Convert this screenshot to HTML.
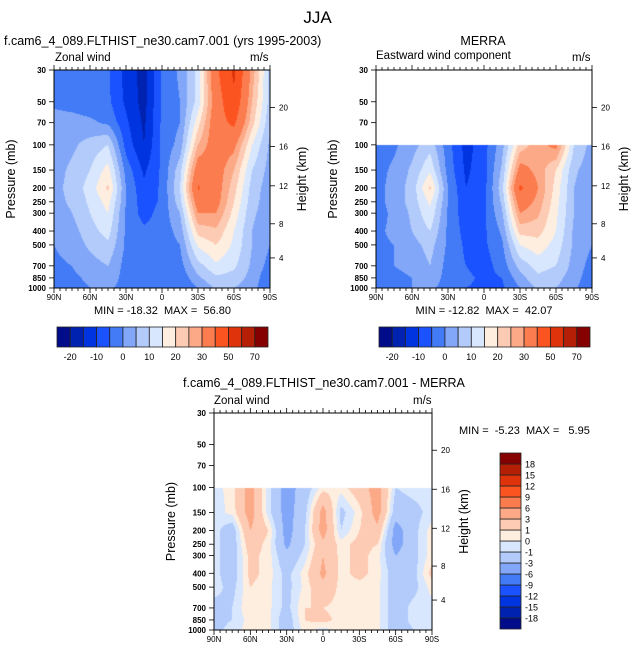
<!DOCTYPE html>
<html><head><meta charset="utf-8">
<style>
html,body{margin:0;padding:0;background:#fff;}
#root{position:relative;width:635px;height:654px;overflow:hidden;font-family:"Liberation Sans",Arial,sans-serif;color:#000;}
.t{position:absolute;white-space:nowrap;line-height:1;}
canvas{position:absolute;}
svg{position:absolute;left:0;top:0;}
</style></head>
<body>
<div id="root">
<div class="t" style="left:0;width:635px;text-align:center;top:9px;font-size:17px;">JJA</div>

<div class="t" style="left:4px;top:35px;font-size:12.5px;">f.cam6_4_089.FLTHIST_ne30.cam7.001 (yrs 1995-2003)</div>
<div class="t" style="left:55px;top:53px;font-size:11.5px;">Zonal wind</div>
<div class="t" style="left:250px;top:53px;font-size:11.5px;">m/s</div>
<div class="t" style="left:0;width:325px;text-align:center;top:306px;font-size:11px;">MIN = -18.32&nbsp; MAX =&nbsp; 56.80</div>

<div class="t" style="left:333px;width:300px;text-align:center;top:35px;font-size:12.5px;">MERRA</div>
<div class="t" style="left:376px;top:51px;font-size:11.5px;">Eastward wind component</div>
<div class="t" style="left:572px;top:53px;font-size:11.5px;">m/s</div>
<div class="t" style="left:330px;width:308px;text-align:center;top:306px;font-size:11px;">MIN = -12.82&nbsp; MAX =&nbsp; 42.07</div>

<div class="t" style="left:183px;top:377px;font-size:12.5px;">f.cam6_4_089.FLTHIST_ne30.cam7.001 - MERRA</div>
<div class="t" style="left:214px;top:396px;font-size:11.5px;">Zonal wind</div>
<div class="t" style="left:413px;top:396px;font-size:11.5px;">m/s</div>
<div class="t" style="left:459px;top:426px;font-size:11px;">MIN =&nbsp; -5.23&nbsp; MAX =&nbsp;&nbsp; 5.95</div>

<canvas id="c1" width="216" height="218" style="left:54px;top:70px;"></canvas>
<canvas id="c2" width="216" height="218" style="left:376px;top:70px;"></canvas>
<canvas id="c3" width="218" height="217" style="left:214px;top:413px;"></canvas>
<svg id="ov" width="635" height="654"></svg>
</div>
<script>
// ---- data ----
const lats = [90,75,60,45,30,15,0,-15,-30,-45,-60,-75,-90];
const pressures = [30,50,70,100,150,200,250,300,400,500,700,850,1000];
const modelU = [
[-2,-2,-3,-4,-12,-17,-4,1,12,38,52,28,8],
[-1,-2,-3,-4,-11,-17,-4,0,12,35,48,25,8],
[2,2,1,-1,-9,-16,-4,0,18,36,42,22,6],
[3,4,7,10,-7,-15,-4,2,25,35,32,15,4],
[3,6,10,17,-2,-11,-4,8,35,34,25,10,3],
[3,7,12,21,0,-9,-4,10,41,34,22,8,2],
[3,6,11,17,0,-8,-4,8,35,33,20,7,2],
[2,5,10,15,-1,-7,-3,5,30,30,18,6,2],
[1,3,8,12,-1,-4,-3,2,22,24,15,5,1],
[0,2,6,9,-1,-3,-3,0,16,20,14,5,0],
[-1,0,3,5,-2,-3,-4,-2,8,14,11,4,-2],
[-1,-1,1,3,-2,-2,-5,-4,4,9,8,3,-4],
[-2,-2,0,1,-2,-2,-4,-5,0,6,5,2,-5]];
const merraU = [
[null,null,null,null,null,null,null,null,null,null,null,null,null],
[null,null,null,null,null,null,null,null,null,null,null,null,null],
[null,null,null,null,null,null,null,null,null,null,null,null,null],
[-2,-1,3,8,-3,-12,-7,3,22,28,32,10,3],
[-2,1,6,14,-2,-11,-7,6,33,28,20,6,2],
[-2,2,7,21,0,-10,-7,8,42,30,18,5,1],
[-2,2,7,16,0,-9,-6,6,35,28,17,5,1],
[-2,1,6,14,-1,-8,-6,4,30,26,16,5,0],
[-1,1,5,10,-1,-7,-6,1,22,22,15,4,0],
[-1,0,3,7,-1,-6,-6,-1,15,18,13,4,0],
[-1,0,1,5,-2,-5,-7,-3,7,12,10,3,-2],
[-1,-1,0,3,-2,-4,-6,-5,3,9,7,2,-3],
[-1,-1,0,1,-2,-5,-6,-6,0,6,5,1,-4]];
const diffU = [
[null,null,null,null,null,null,null,null,null,null,null,null,null],
[null,null,null,null,null,null,null,null,null,null,null,null,null],
[null,null,null,null,null,null,null,null,null,null,null,null,null],
[-0.5,0.5,4,-0.5,-4,-2,0.5,0.5,2,4,-1,-0.5,-0.5],
[-0.5,0.3,4,-0.5,-4,-1.5,4,-1.5,0.5,4,-2,-1.5,-0.5],
[-0.5,-2,3,1,-4,-1,4,-1,1,2.5,-4,-1.5,0.5],
[-0.5,-2,2,0.5,-3.5,-1,2.5,0.5,1.5,1,-4,-1.5,0.5],
[-0.5,-2,1.5,0.5,-2.5,-0.5,3,0.5,1.5,0.5,-3,-1.5,0.5],
[-0.5,-2,1.5,0.5,-1.5,0.5,3.5,0.5,1.5,0.5,-2,-1.5,1.5],
[-0.5,-1.5,1,0.3,-1.5,0.3,2.5,0.5,0.5,0.3,-2,-1.5,0.5],
[-1.5,-1,1,0.3,-1.5,1,1,0.5,0.5,0.3,-2,-0.5,-0.5],
[-1.5,-1,0.5,0.3,-2,1,1.5,0.5,0.5,0.3,-2,-0.5,-1],
[-1.5,-0.5,0.5,0.3,-2,0.5,-0.5,0.5,0.5,0.3,-2,-1,-1]];
const windLevels = [-20,-15,-10,-5,0,5,10,15,20,25,30,40,50,60,70];
const windLabels = ["-20","-10","0","10","20","30","50","70"];
const diffLevels = [-18,-15,-12,-9,-6,-3,-1,0,1,3,6,9,12,15,18];
const pTicks = [30,50,70,100,150,200,250,300,400,500,700,850,1000];
const hTicks = [4,8,12,16,20];
const latTicks = [90,60,30,0,-30,-60,-90];
const latTickLabels = ["90N","60N","30N","0","30S","60S","90S"];
const palette = ["#000c8a","#0022b0","#0034e0","#1a52ff","#437bf6","#82a7f8","#b2cbfb","#d8e7fd","#fdeee0","#fdcbb3","#fca987","#fb7c4e","#fc5421","#df330b","#b41f06","#850000"];

// ---- helpers ----
const NS="http://www.w3.org/2000/svg";
const ov=document.getElementById('ov');
function mk(tag,attrs,txt){const e=document.createElementNS(NS,tag);for(const k in attrs)e.setAttribute(k,attrs[k]);if(txt!==undefined)e.textContent=txt;ov.appendChild(e);return e;}
function hexRGB(h){return [parseInt(h.substr(1,2),16),parseInt(h.substr(3,2),16),parseInt(h.substr(5,2),16)];}
function colorIdx(v,levels){let i=0;while(i<levels.length&&v>=levels[i])i++;return i;}
function heightToP(km){const z=km*1000;if(z<=11000)return 1013.25*Math.pow(1-2.25577e-5*z,5.25588);return 226.32*Math.exp(-(z-11000)/6341.6);}
const LR=Math.log(1000/30);

function drawField(id,P,field,levels){
  const cv=document.getElementById(id),ctx=cv.getContext('2d');
  const w=cv.width,h=cv.height,img=ctx.createImageData(w,h);
  const rows=pressures.map(p=>Math.log(p/30)/LR*h);
  const cols=palette.map(hexRGB);
  for(let y=0;y<h;y++){
    const yy=y+0.5;let r=0;while(r<rows.length-2&&yy>rows[r+1])r++;
    let fy=(yy-rows[r])/(rows[r+1]-rows[r]);fy=Math.max(0,Math.min(1,fy));
    for(let x=0;x<w;x++){
      const fc=(x+0.5)/w*(lats.length-1);let c=Math.min(lats.length-2,Math.floor(fc));const fx=fc-c;
      const a=field[r][c],b=field[r][c+1],d=field[r+1][c],e=field[r+1][c+1];
      const k=(y*w+x)*4;
      if(a===null||b===null){img.data[k]=255;img.data[k+1]=255;img.data[k+2]=255;img.data[k+3]=255;continue;}
      const v=(a*(1-fx)+b*fx)*(1-fy)+(d*(1-fx)+e*fx)*fy;
      const col=cols[colorIdx(v,levels)];
      img.data[k]=col[0];img.data[k+1]=col[1];img.data[k+2]=col[2];img.data[k+3]=255;
    }
  }
  ctx.putImageData(img,0,0);
}

function drawAxes(P,pre){
  const yOf=p=>P.y+Math.log(p/30)/LR*P.h;
  const xOf=l=>P.x+(90-l)/180*P.w;
  mk('rect',{x:P.x,y:P.y,width:P.w,height:P.h,fill:'none',stroke:'#000','stroke-width':1,});
  for(let l=90;l>=-90;l-=5){
    const major=(l%30===0),len=major?5:3,x=xOf(l);
    mk('line',{x1:x,x2:x,y1:P.y,y2:P.y-len,stroke:'#000','stroke-width':0.8,});
    mk('line',{x1:x,x2:x,y1:P.y+P.h,y2:P.y+P.h+len,stroke:'#000','stroke-width':0.8,});
  }
  latTicks.forEach((l,i)=>{mk('text',{x:xOf(l),y:P.y+P.h+12,'font-size':8,'text-anchor':'middle','font-family':'Liberation Sans, sans-serif',},latTickLabels[i]);});
  pTicks.forEach(p=>{const y=yOf(p);
    mk('line',{x1:P.x,x2:P.x-5,y1:y,y2:y,stroke:'#000','stroke-width':0.8,});
    mk('text',{x:P.x-8,y:y+3,'font-size':8,'text-anchor':'end','font-weight':'bold','font-family':'Liberation Sans, sans-serif',},String(p));});
  hTicks.forEach(hk=>{const y=yOf(heightToP(hk));
    mk('line',{x1:P.x+P.w,x2:P.x+P.w+5,y1:y,y2:y,stroke:'#000','stroke-width':0.8,});
    mk('text',{x:P.x+P.w+9,y:y+3,'font-size':8,'font-family':'Liberation Sans, sans-serif',},String(hk));});
  const cy=P.y+P.h/2;
  mk('text',{x:P.x-39,y:cy,'font-size':12.5,'text-anchor':'middle',transform:`rotate(-90 ${P.x-39} ${cy})`,'font-family':'Liberation Sans, sans-serif',},'Pressure (mb)');
  mk('text',{x:P.x+P.w+36,y:cy,'font-size':12.5,'text-anchor':'middle',transform:`rotate(-90 ${P.x+P.w+36} ${cy})`,'font-family':'Liberation Sans, sans-serif',},'Height (km)');
}

function hBar(x,y,w,h,pre){
  const bw=w/palette.length;
  palette.forEach((c,i)=>{mk('rect',{x:x+i*bw,y:y,width:bw,height:h,fill:c,stroke:'#222','stroke-width':0.8,});});
  windLabels.forEach((t,i)=>{mk('text',{x:x+(1+2*i)*bw,y:y+h+13,'font-size':9,'text-anchor':'middle','font-family':'Liberation Sans, sans-serif',},t);});
}
function vBar(x,y,w,h,pre){
  const bh=h/palette.length;
  palette.forEach((c,i)=>{mk('rect',{x:x,y:y+h-(i+1)*bh,width:w,height:bh,fill:c,stroke:'#222','stroke-width':0.8,});});
  diffLevels.forEach((v,i)=>{mk('text',{x:x+w+4,y:y+h-(i+1)*bh+3.5,'font-size':9,'font-family':'Liberation Sans, sans-serif',},String(v));});
}

const P1={x:54,y:70,w:216,h:218},P2={x:376,y:70,w:216,h:218},P3={x:214,y:413,w:218,h:217};
drawField('c1',P1,modelU,windLevels);
drawField('c2',P2,merraU,windLevels);
drawField('c3',P3,diffU,diffLevels);
drawAxes(P1,'model');drawAxes(P2,'merra');drawAxes(P3,'diff');
hBar(57,327,211,20,'model');
hBar(379,327,211,20,'merra');
vBar(500,453,21,176,'diff');
</script>
</body></html>
